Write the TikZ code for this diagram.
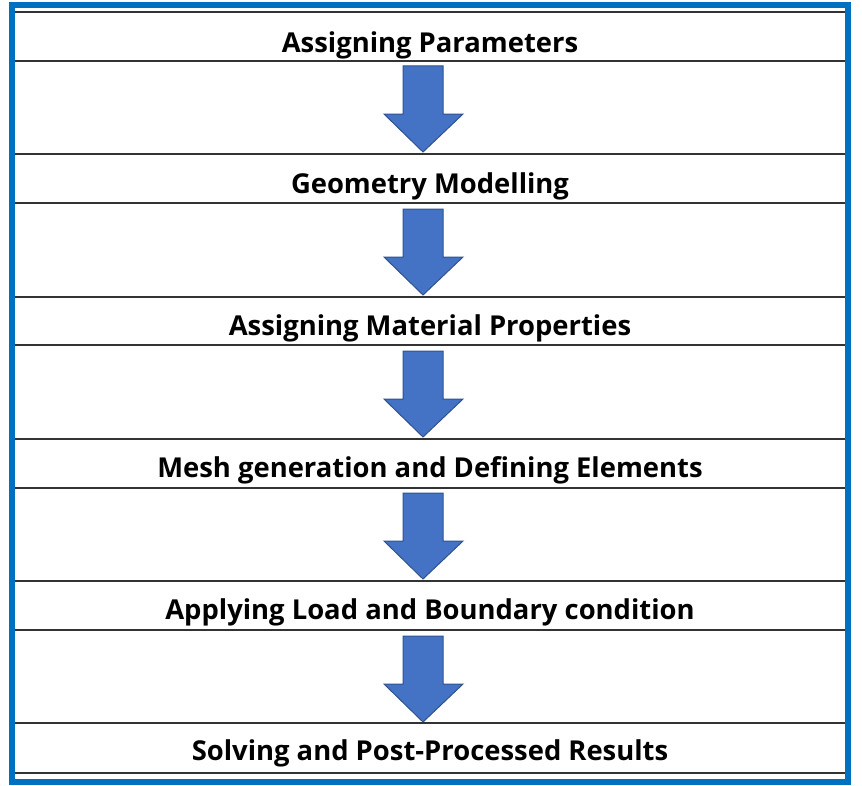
\documentclass[tikz,border=0pt]{standalone}
\usepackage{fontspec}
\setmainfont{Open Sans}
\begin{document}
\begin{tikzpicture}[x=1bp,y=-1bp,
  ln/.style={line width=1.6bp,black!80},
  lbl/.style={font=\bfseries\fontsize{27.5}{30}\selectfont,anchor=center,inner sep=0},
  arr/.style={fill={rgb,255:red,68;green,114;blue,196},draw={rgb,255:red,47;green,82;blue,143},line width=1bp}]
\definecolor{frame}{RGB}{0,112,192}
\useasboundingbox (0,0) rectangle (862,786);
\fill[white] (0,0) rectangle (862,786);
\foreach \y in {12,61,154,203,297,345,439,488,581,630,723,773}
  \draw[ln] (15,\y) -- (846,\y);
\node[lbl] (t1) at (430,45) {Assigning Parameters};
\node[lbl] (t2) at (430,186) {Geometry Modelling};
\node[lbl] (t3) at (430,328) {Assigning Material Properties};
\node[lbl] (t4) at (430,470) {Mesh generation and Defining Elements};
\node[lbl] (t5) at (430,612) {Applying Load and Boundary condition};
\node[lbl] (t6) at (430,753) {Solving and Post-Processed Results};
\foreach \t in {66,209,351,493,636}
  \draw[arr] (403,\t) -- (443,\t) -- (443,\t+48) -- (463,\t+48) -- (423,\t+86) -- (384,\t+48) -- (403,\t+48) -- cycle;
\draw[frame,line width=6bp] (12,5) -- (848,5) -- (848,782) -- (12,782) -- cycle;
\end{tikzpicture}
\end{document}
